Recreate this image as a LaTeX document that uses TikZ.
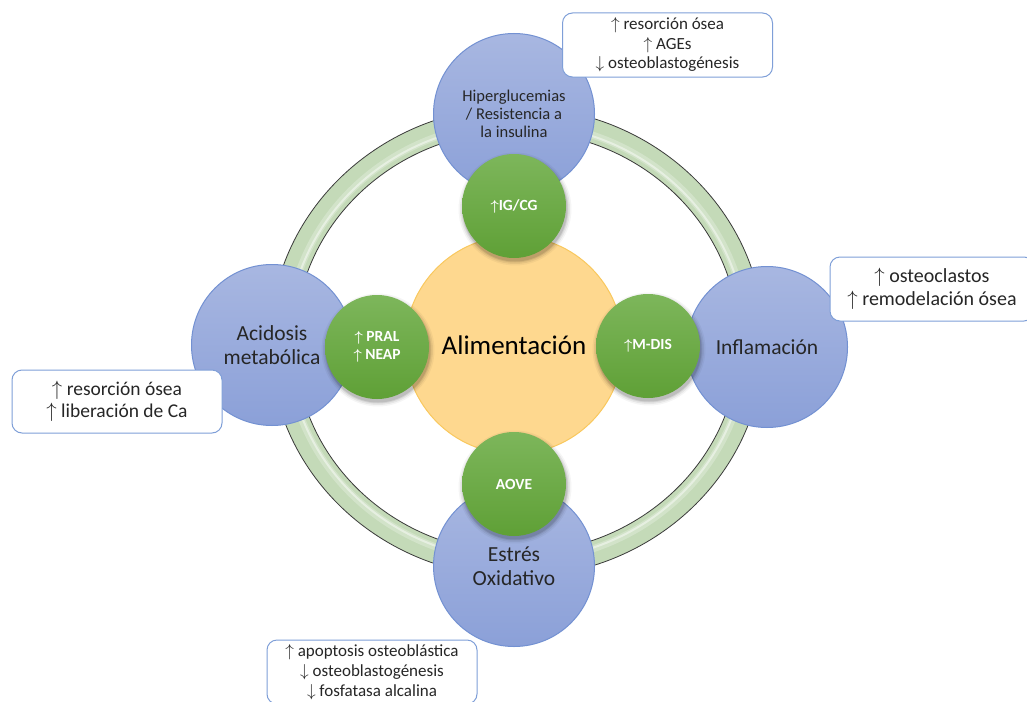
\documentclass[tikz,border=0pt]{standalone}
\usepackage{fontspec}
\setmainfont{Carlito}
\definecolor{bluetop}{HTML}{A8B7E1}
\definecolor{bluebot}{HTML}{8BA0D8}
\definecolor{blueline}{HTML}{7391D2}
\definecolor{greentop}{HTML}{7DB65B}
\definecolor{greenbot}{HTML}{5FA036}
\definecolor{orfill}{HTML}{FED88F}
\definecolor{orline}{HTML}{F9C85E}
\definecolor{ringfill}{HTML}{C4DAB8}
\definecolor{ringedge}{HTML}{3A3A3A}
\definecolor{boxline}{HTML}{7F9FD8}
\definecolor{txt}{HTML}{262626}
\newcommand{\upa}{{\boldmath$\uparrow$}}
\newcommand{\upb}{$\uparrow$}
\newcommand{\dnb}{$\downarrow$}
\begin{document}
\begin{tikzpicture}[x=1pt,y=-1pt,
  bluec/.style={circle, minimum size=161pt, inner sep=0pt, draw=blueline, line width=1pt,
    top color=bluetop, bottom color=bluebot, align=center, text=txt},
  greenc/.style={circle, minimum size=104pt, inner sep=0pt, top color=greentop, bottom color=greenbot,
    draw=none, text=white, align=center, font=\bfseries\fontsize{15.5}{18}\selectfont},
  callout/.style={rectangle, rounded corners=10pt, draw=boxline, line width=1pt, fill=white,
    align=center, text=txt, inner sep=0pt, minimum width=210pt, minimum height=64pt},
  ringband/.style={fill=ringfill, even odd rule},
  ringline/.style={draw=ringedge, line width=0.8pt}
]
\useasboundingbox (0,0) rectangle (1027,701);
\fill[white] (0,0) rectangle (1027,701);

% ring
\coordinate (rc) at (517,342);
\fill[ringband] (rc) ellipse [x radius=247pt, y radius=235pt] (rc) ellipse [x radius=222pt, y radius=211pt];
\draw[white, opacity=0.25, line width=7pt] (rc) ellipse [x radius=230pt, y radius=219pt];
\draw[white, opacity=0.45, line width=2pt] (rc) ellipse [x radius=229pt, y radius=218pt];
\draw[ringline] (rc) ellipse [x radius=247pt, y radius=235pt];
\draw[ringline] (rc) ellipse [x radius=222pt, y radius=211pt];

% outer blue circles
\node[bluec, font=\fontsize{16.5}{18}\selectfont] (hip) at (514,114) {Hiperglucemias\\/ Resistencia a\\la insulina};
\node[bluec, font=\fontsize{21.5}{24}\selectfont] (aci) at (272,345) {Acidosis\\metabólica};
\node[bluec, font=\fontsize{21.5}{24}\selectfont] (inf) at (767,347) {Inflamación};
\node[bluec, font=\fontsize{21.5}{24}\selectfont] (est) at (514,566) {Estrés\\Oxidativo};

% centre
\node[circle, minimum size=218pt, inner sep=0pt, fill=orfill, draw=orline, line width=1pt,
  text=black, font=\fontsize{27}{32}\selectfont] (ali) at (514,345) {Alimentación};

% green circles with soft shadows
\coordinate (pig) at (514,206);
\coordinate (ppr) at (377,347);
\coordinate (pmd) at (648,346);
\coordinate (pao) at (514,484);
\foreach \n in {pig,ppr,pmd,pao}{
  \foreach \r/\o in {56.5/0.04,55/0.06,53.5/0.08,52.5/0.1}{
    \fill[black, opacity=\o] ([shift={(1,3)}]\n) circle[radius=\r pt];
  }
}
\node[greenc] (ig) at (pig) {\upa IG/CG};
\node[greenc] (pral) at (ppr) {\upa{} PRAL\\\upa{} NEAP};
\node[greenc] (mdis) at (pmd) {\upa M-DIS};
\node[greenc] (aove) at (pao) {AOVE};

% callouts
\node[callout, font=\fontsize{17}{19.5}\selectfont] (ctop) at (667.5,45) {\upb{} resorción ósea\\\upb{} AGEs\\\dnb{} osteoblastogénesis};
\node[callout, minimum width=204pt, font=\fontsize{20}{23}\selectfont] (cright) at (932,289) {\upb{} osteoclastos\\\upb{} remodelación ósea};
\node[callout, minimum height=63pt, font=\fontsize{19.5}{21.5}\selectfont] (cleft) at (117,401.5) {\upb{} resorción ósea\\\upb{} liberación de Ca};
\node[callout, font=\fontsize{17}{20}\selectfont] (cbot) at (372,672) {\upb{} apoptosis osteoblástica\\\dnb{} osteoblastogénesis\\\dnb{} fosfatasa alcalina};
\end{tikzpicture}
\end{document}
